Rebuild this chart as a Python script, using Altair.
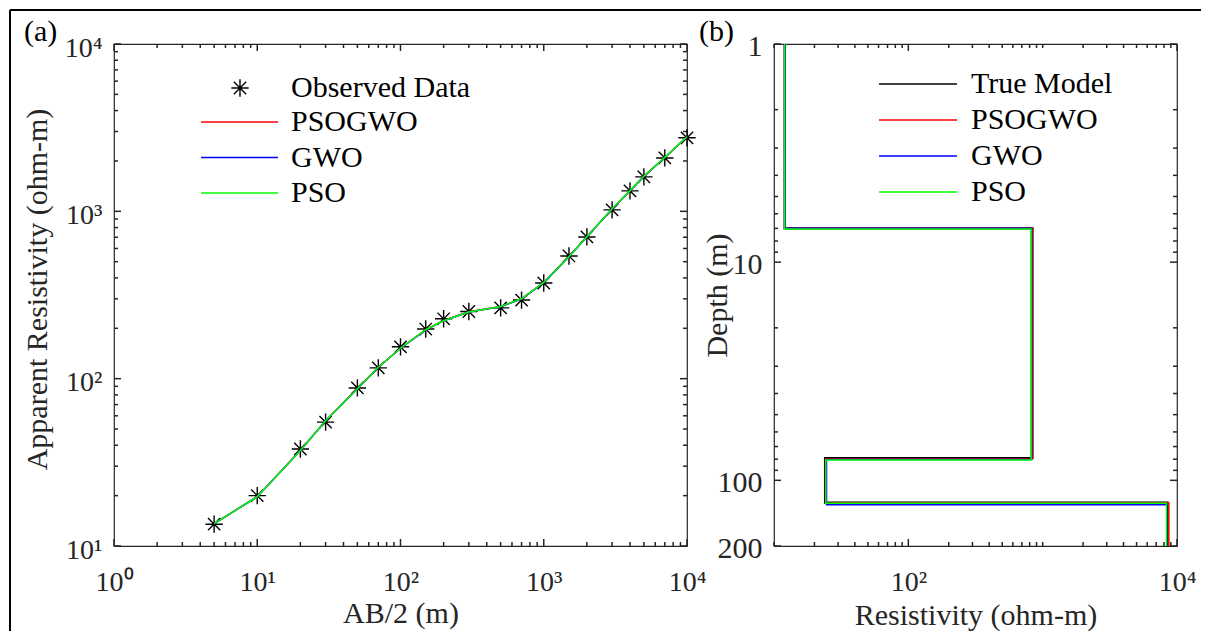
import math
import altair as alt
import pandas as pd

FONT = "Liberation Serif"
AX = "#262626"

# ---------------- data: panel (a) ----------------
ab2 = [5, 10, 20, 30, 50, 70, 100, 150, 200, 300, 500, 700, 1000, 1500, 2000, 3000, 4000, 5000, 7000, 10000]
rho_obs = [13.5, 20.0, 38.0, 55.0, 88.0, 116, 155, 198, 228, 252, 265, 295, 373, 541, 703, 1020, 1325, 1607, 2085, 2750]
rho_psogwo = [13.6, 19.7, 37.3, 56.1, 87.2, 117, 152, 196, 223, 251, 270, 300, 376, 537, 706, 1034, 1329, 1619, 2098, 2785]
rho_gwo = [13.6, 19.7, 37.2, 56.0, 87.1, 117, 152, 195, 222, 250, 269, 299, 375, 536, 704, 1033, 1328, 1618, 2097, 2788]
rho_pso = [13.6, 19.7, 37.2, 56.0, 87.0, 117, 152, 196, 222, 250, 270, 300, 376, 536, 705, 1035, 1330, 1620, 2100, 2790]

methods_a = ["PSOGWO", "GWO", "PSO"]
colors_a = ["#ff0000", "#0000ff", "#00ff00"]

# ---------------- data: panel (b) ----------------
models_b = ["True Model", "PSOGWO", "GWO", "PSO"]
colors_b = ["#000000", "#ff0000", "#0000ff", "#00ff00"]
rho_true = [12.0, 840, 24.0, 8500]
rho_m_psogwo = [12.0, 835, 24.2, 8700]
rho_m_gwo = [12.1, 825, 24.6, 8400]
rho_m_pso = [12.0, 820, 24.3, 8350]
depth_true = [7.0, 79.0, 126.5]
depth_psogwo = [7.0, 79.8, 127.0]
depth_gwo = [7.0, 80.3, 129.3]
depth_pso = [7.05, 80.7, 127.5]
depth_top, depth_bottom = 1, 200

# axis ranges, tick positions / labels
xa_dom, ya_dom = [1, 10000], [10, 10000]
xb_dom, yb_dom = [10, 10000], [depth_top, depth_bottom]
xa_labels = [1, 10, 100, 1000, 10000]
ya_labels = [10, 100, 1000, 10000]
xa_minor = [m * 10 ** k for k in range(0, 4) for m in range(2, 10)]
ya_minor = [m * 10 ** k for k in range(1, 4) for m in range(2, 10)]
xb_labels = [100, 10000]
yb_labels = [1, 10, 100, 200]
xb_minor = [m * 10 ** k for k in range(1, 4) for m in range(1, 10) if m * 10 ** k != 100]
yb_minor = [m * 10 ** k for k in range(0, 2) for m in range(2, 10)]

W_L, W_R, H = 573, 403, 502
MAJOR_LEN, MINOR_LEN = 7, 4

SUP = "'10' + ['\u2070','\u00b9','\u00b2','\u00b3','\u2074'][round(log(datum.value)/LN10)]"
ASTERISK = "M0,-1L0,1M-1,0L1,0M-0.71,-0.71L0.71,0.71M-0.71,0.71L0.71,-0.71"
LINE_SYM = "M-5,0L5,0"

# ---------------- tables ----------------
obs_df = pd.DataFrame({"ab2": ab2, "rho": rho_obs, "lab": "Observed Data"})
fit_rows = []
for name, vals in zip(methods_a, [rho_psogwo, rho_gwo, rho_pso]):
    for a, r in zip(ab2, vals):
        fit_rows.append({"ab2": a, "rho": r, "method": name})
fit_df = pd.DataFrame(fit_rows)

step_rows = []
for name, rho, dep in zip(models_b, [rho_true, rho_m_psogwo, rho_m_gwo, rho_m_pso],
                          [depth_true, depth_psogwo, depth_gwo, depth_pso]):
    bounds = [depth_top] + dep + [depth_bottom]
    idx = 0
    for i, r in enumerate(rho):
        for d in (bounds[i], bounds[i + 1]):
            step_rows.append({"res": r, "depth": d, "model": name, "idx": idx})
            idx += 1
step_df = pd.DataFrame(step_rows)
one = pd.DataFrame({"t": ["x"]})


def box_ticks(xs, ys, xdom, ydom, xmaj, xmin, ymaj, ymin, w, h, y_reversed=False):
    """Inward box ticks as data-space rules (tick length converted from pixels to log decades)."""
    ppd_x = w / (math.log10(xdom[1]) - math.log10(xdom[0]))
    ppd_y = h / (math.log10(ydom[1]) - math.log10(ydom[0]))
    vrows, hrows = [], []
    y_bot, y_top = (ydom[1], ydom[0]) if y_reversed else (ydom[0], ydom[1])
    up = -1 if y_reversed else 1   # sign of log-step that moves upward on screen
    for vals, L in ((xmaj, MAJOR_LEN), (xmin, MINOR_LEN)):
        f = 10 ** (L / ppd_y)
        for v in vals:
            vrows.append({"vx": float(v), "vy": float(y_bot), "vy2": float(y_bot * f ** up)})
            vrows.append({"vx": float(v), "vy": float(y_top), "vy2": float(y_top / f ** up)})
    for vals, L in ((ymaj, MAJOR_LEN), (ymin, MINOR_LEN)):
        f = 10 ** (L / ppd_x)
        for v in vals:
            hrows.append({"hy": float(v), "hx": float(xdom[0]), "hx2": float(xdom[0] * f)})
            hrows.append({"hy": float(v), "hx": float(xdom[1]), "hx2": float(xdom[1] / f)})
    vt = alt.Chart(pd.DataFrame(vrows)).mark_rule(color=AX, strokeWidth=1.5, opacity=1).encode(
        x=alt.X("vx:Q", scale=xs, axis=None),
        y=alt.Y("vy:Q", scale=ys, axis=None),
        y2="vy2:Q",
    )
    ht = alt.Chart(pd.DataFrame(hrows)).mark_rule(color=AX, strokeWidth=1.5, opacity=1).encode(
        x=alt.X("hx:Q", scale=xs, axis=None),
        x2="hx2:Q",
        y=alt.Y("hy:Q", scale=ys, axis=None),
    )
    return [vt, ht]


# ---------------- panel (a) ----------------
xs_a = alt.Scale(type="log", domain=xa_dom, nice=False)
ys_a = alt.Scale(type="log", domain=ya_dom, nice=False)

x_main_a = alt.Axis(values=xa_labels, labelExpr=SUP, ticks=False, tickSize=0, domain=False, grid=False,
                    labelFontSize=28, labelPadding=22, labelFlush=False, labelOverlap=False,
                    title="AB/2 (m)", titleFontSize=30, titleY=76, titleBaseline="alphabetic")
y_main_a = alt.Axis(values=ya_labels, labelExpr=SUP, ticks=False, tickSize=0, domain=False, grid=False,
                    labelFontSize=28, labelPadding=12, labelFlush=False, labelOverlap=False, labelOffset=4,
                    title="Apparent Resistivity (ohm-m)", titleFontSize=30, titleX=-68, titleY=H / 2 - 6,
                    titleAngle=-90, titleBaseline="alphabetic", titleAlign="center")

obs_layer = alt.Chart(obs_df).mark_point(filled=False, color="black", opacity=1, size=300,
                                         strokeWidth=1.4).encode(
    x=alt.X("ab2:Q", scale=xs_a, axis=x_main_a),
    y=alt.Y("rho:Q", scale=ys_a, axis=y_main_a),
    shape=alt.Shape("lab:N", scale=alt.Scale(domain=["Observed Data"], range=[ASTERISK]),
                    legend=alt.Legend(orient="none", legendX=111, legendY=29, title=None, padding=0,
                                      symbolSize=300, symbolStrokeColor="black", symbolFillColor="transparent",
                                      symbolStrokeWidth=1.4, symbolOpacity=1, labelOffset=36, labelFontSize=30,
                                      labelLimit=500, labelColor="black", labelFont=FONT)),
)

leg_a = alt.Legend(orient="none", legendX=110.5, legendY=63, title=None, padding=0, symbolType=LINE_SYM,
                   symbolSize=237, symbolStrokeWidth=1.5, labelOffset=36.5, labelFontSize=30,
                   rowPadding=5.5, labelLimit=500, labelColor="black", labelFont=FONT)
fit_layers = []
for name in methods_a:
    fit_layers.append(
        alt.Chart(fit_df).transform_filter(alt.datum.method == name).mark_line(strokeWidth=1.5).encode(
            x=alt.X("ab2:Q", scale=xs_a, axis=None),
            y=alt.Y("rho:Q", scale=ys_a, axis=None),
            color=alt.Color("method:N", scale=alt.Scale(domain=methods_a, range=colors_a), legend=leg_a),
        )
    )

border_top = alt.Chart(one).mark_rule(color="black", strokeWidth=2).encode(
    x=alt.value(-104), x2=alt.value(1087), y=alt.value(-34))
border_left = alt.Chart(one).mark_rule(color="black", strokeWidth=2).encode(
    x=alt.value(-104), y=alt.value(-34), y2=alt.value(587))
tag_a = alt.Chart(pd.DataFrame({"t": ["(a)"]})).mark_text(
    font=FONT, fontSize=30, align="left", baseline="alphabetic", color="black").encode(
    x=alt.value(-90), y=alt.value(-3), text="t:N")

panel_a = alt.layer(
    border_top, border_left, tag_a,
    *box_ticks(xs_a, ys_a, xa_dom, ya_dom, xa_labels, xa_minor, ya_labels, ya_minor, W_L, H, False),
    obs_layer, *fit_layers,
).resolve_axis(x="independent", y="independent").properties(width=W_L, height=H)

# ---------------- panel (b) ----------------
xs_b = alt.Scale(type="log", domain=xb_dom, nice=False)
ys_b = alt.Scale(type="log", domain=yb_dom, nice=False, reverse=True)

x_main_b = alt.Axis(values=xb_labels, labelExpr=SUP, ticks=False, tickSize=0, domain=False, grid=False,
                    labelFontSize=28, labelPadding=22, labelFlush=False, labelOverlap=False,
                    title="Resistivity (ohm-m)", titleFontSize=30, titleY=78, titleBaseline="alphabetic")
y_main_b = alt.Axis(values=yb_labels, format="d", ticks=False, tickSize=0, domain=False, grid=False,
                    labelFontSize=30, labelPadding=12, labelFlush=False, labelOverlap=False, labelOffset=2,
                    title="Depth (m)", titleFontSize=30, titleX=-48, titleY=H / 2,
                    titleAngle=-90, titleBaseline="alphabetic", titleAlign="center")

main_b = alt.Chart(step_df).mark_point(opacity=0).encode(
    x=alt.X("res:Q", scale=xs_b, axis=x_main_b),
    y=alt.Y("depth:Q", scale=ys_b, axis=y_main_b),
)

leg_b = alt.Legend(orient="none", legendX=129, legendY=25, title=None, padding=0, symbolType=LINE_SYM,
                   symbolSize=243, symbolStrokeWidth=1.5, labelOffset=38, labelFontSize=30,
                   rowPadding=6, labelLimit=500, labelColor="black", labelFont=FONT)
model_layers = []
for name, sw in zip(models_b, [2.2, 1.5, 1.5, 1.5]):
    model_layers.append(
        alt.Chart(step_df).transform_filter(alt.datum.model == name).mark_line(strokeWidth=sw).encode(
            x=alt.X("res:Q", scale=xs_b, axis=None),
            y=alt.Y("depth:Q", scale=ys_b, axis=None),
            order="idx:Q",
            color=alt.Color("model:N", scale=alt.Scale(domain=models_b, range=colors_b), legend=leg_b),
        )
    )

tag_b = alt.Chart(pd.DataFrame({"t": ["(b)"]})).mark_text(
    font=FONT, fontSize=30, align="left", baseline="alphabetic", color="black").encode(
    x=alt.value(-75), y=alt.value(-3), text="t:N")

panel_b = alt.layer(
    tag_b,
    *box_ticks(xs_b, ys_b, xb_dom, yb_dom, xb_labels, xb_minor, yb_labels, yb_minor, W_R, H, True),
    main_b, *model_layers,
).resolve_axis(x="independent", y="independent").properties(width=W_R, height=H)

chart = alt.hconcat(panel_a, panel_b, spacing=87, bounds="flush", padding=0).resolve_scale(
    color="independent", shape="independent").resolve_legend(color="independent", shape="independent"
).configure_view(stroke=AX, strokeWidth=1.2).configure_axis(
    labelFont=FONT, titleFont=FONT, labelColor=AX, titleColor=AX, titleFontWeight="normal"
).configure_legend(labelFont=FONT)

chart.save("out.html", embed_options={"renderer": "svg", "actions": False})
